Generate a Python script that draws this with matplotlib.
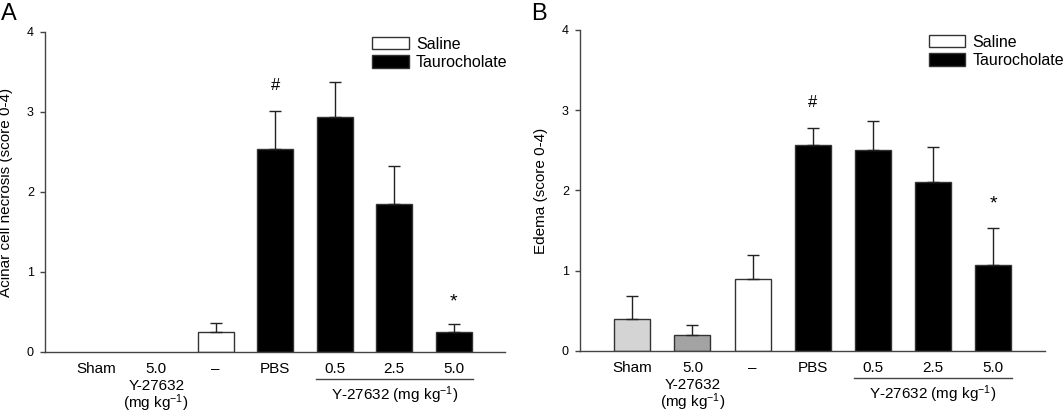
import numpy as np
import matplotlib.pyplot as plt
from matplotlib.patches import Patch

plt.rcParams['font.family'] = ['Liberation Sans', 'DejaVu Sans']
plt.rcParams['mathtext.fontset'] = 'custom'
plt.rcParams['mathtext.rm'] = 'Liberation Sans'
plt.rcParams['mathtext.it'] = 'Liberation Sans:italic'
plt.rcParams['mathtext.bf'] = 'Liberation Sans:bold'

# groups along the x axis
groups = ['Sham', '5.0', '\u2013', 'PBS', '0.5', '2.5', '5.0']

# panel A: acinar cell necrosis (mean, SEM)
necrosis_mean = [0.0, 0.0, 0.25, 2.54, 2.94, 1.85, 0.25]
necrosis_err = [0.0, 0.0, 0.11, 0.47, 0.44, 0.48, 0.10]

# panel B: edema (mean, SEM)
edema_mean = [0.40, 0.20, 0.90, 2.57, 2.50, 2.10, 1.07]
edema_err = [0.29, 0.12, 0.29, 0.21, 0.36, 0.44, 0.46]

colors = ['#d4d4d4', '#a3a3a3', 'white', 'black', 'black', 'black', 'black']

# significance marks: (group index, height, symbol)
marks_a = [(3, 3.33, '#'), (6, 0.63, '*')]
marks_b = [(3, 3.10, '#'), (6, 1.83, '*')]

fig = plt.figure(figsize=(10.63, 4.17), dpi=100)
ax_a = fig.add_axes([0.0423, 0.1559, 0.4327, 0.7674])
ax_b = fig.add_axes([0.5456, 0.1583, 0.4374, 0.7698])


def below(ax, x, dy, s, **kw):
    # text placed dy points below the x axis, on its baseline
    ax.annotate(s, xy=(x, 0), xycoords=('data', 'axes fraction'),
                xytext=(0, -dy), textcoords='offset points',
                ha='center', va='baseline', fontsize=11, annotation_clip=False, **kw)


def draw_panel(ax, means, errs, marks, ylabel, leg_anchor):
    x = np.arange(len(groups))
    for i in range(len(groups)):
        if means[i] == 0:
            continue
        ax.bar(x[i], means[i], width=0.6, color=colors[i],
               edgecolor='#333333', linewidth=1.0, zorder=2)
        ax.errorbar(x[i], means[i], yerr=[[0], [errs[i]]], fmt='none',
                    ecolor='#222222', elinewidth=1.0, capsize=4, capthick=1.0, zorder=3)
    for i, h, s in marks:
        ax.text(x[i], h, s, ha='center', va='center',
                fontsize=12 if s == '#' else 14)
    ax.set_xlim(-0.87, 6.86)
    ax.set_ylim(0, 4)
    ax.set_yticks([0, 1, 2, 3, 4])
    ax.set_xticks([])
    ax.spines['top'].set_visible(False)
    ax.spines['right'].set_visible(False)
    for sp in ['left', 'bottom']:
        ax.spines[sp].set_color('#444444')
        ax.spines[sp].set_linewidth(1.0)
    ax.tick_params(axis='y', direction='out', length=3.5, width=1.0,
                   color='#444444', labelsize=9, pad=4.5)
    ax.set_ylabel(ylabel, fontsize=11, labelpad=10)

    # group labels under the axis
    for i, g in enumerate(groups):
        below(ax, x[i], 15.1, g)
    below(ax, x[1], 27.4, 'Y-27632')
    below(ax, x[1], 40.3, '(mg kg$^{-1}$)')
    # bracket line under the Y-27632 doses
    line_y = -27 / (ax.get_position().height * 417)
    ax.plot([x[4] - 0.32, x[6] + 0.32], [line_y, line_y],
            transform=ax.get_xaxis_transform(), color='#444444',
            linewidth=1.0, clip_on=False)
    below(ax, (x[4] + x[6]) / 2, 34.6, 'Y-27632 (mg kg$^{-1}$)')

    handles = [Patch(facecolor='white', edgecolor='#333333', label='Saline'),
               Patch(facecolor='black', edgecolor='#333333', label='Taurocholate')]
    ax.legend(handles=handles, loc='upper left', bbox_to_anchor=leg_anchor,
              frameon=False, fontsize=11.5, handlelength=2.3, handleheight=0.8,
              handletextpad=0.45, labelspacing=0.2, borderaxespad=0, borderpad=0)


draw_panel(ax_a, necrosis_mean, necrosis_err, marks_a,
           'Acinar cell necrosis (score 0-4)', (0.711, 0.985))
draw_panel(ax_b, edema_mean, edema_err, marks_b,
           'Edema (score 0-4)', (0.75, 0.985))

fig.text(0.5 / 1063, 1 - 20 / 417, 'A', fontsize=17, ha='left', va='baseline')
fig.text(531 / 1063, 1 - 20 / 417, 'B', fontsize=17, ha='left', va='baseline')

fig.savefig('out.png', dpi=100)
